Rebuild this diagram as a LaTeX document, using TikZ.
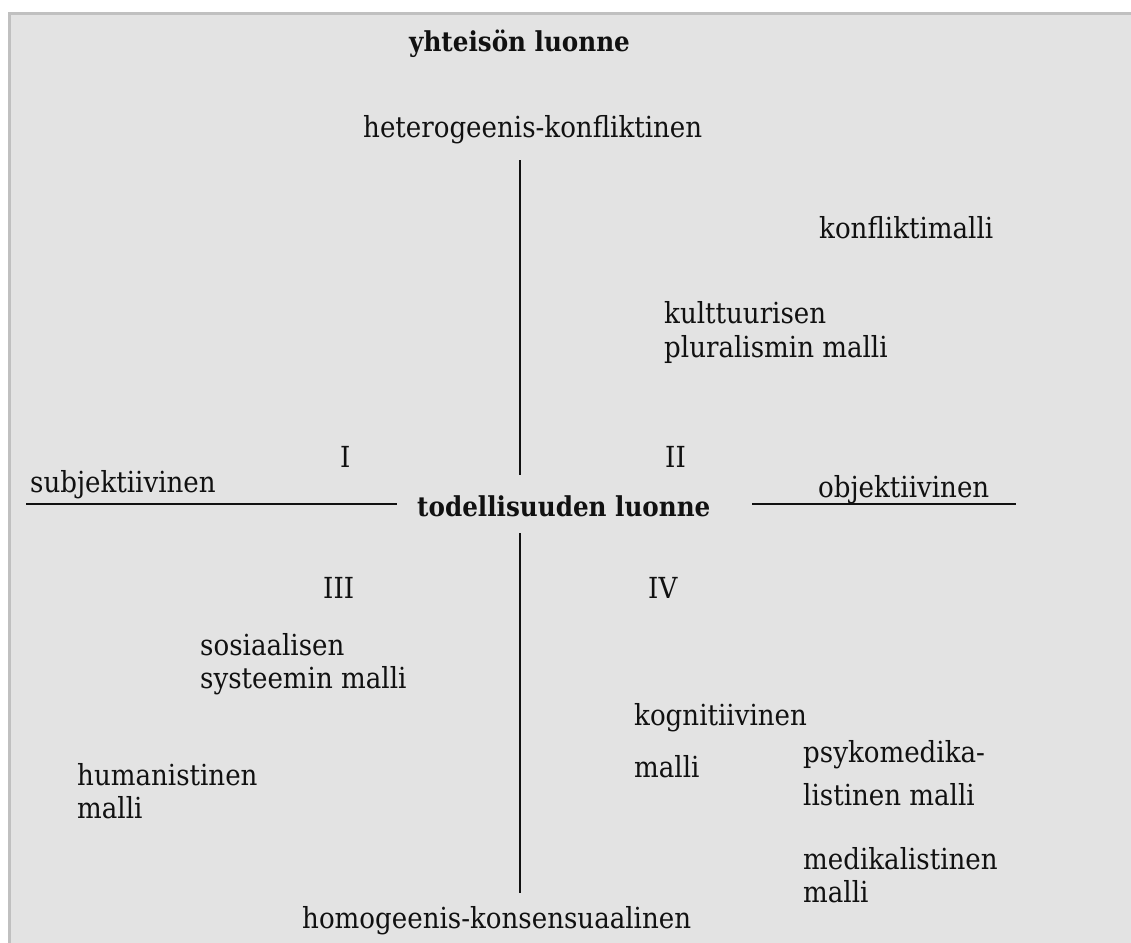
\documentclass[tikz,border=0pt]{standalone}
\usepackage{fontspec}
\setmainfont{DejaVu Serif Condensed}
\definecolor{panel}{HTML}{E3E3E3}
\definecolor{panelrule}{HTML}{C0C0C0}
\definecolor{ink}{HTML}{111111}
\begin{document}
\begin{tikzpicture}[x=1pt,y=-1pt,
  lbl/.style={anchor=base west, inner sep=0pt, text=ink,
              font=\fontsize{29}{30}\selectfont},
  head/.style={lbl, font=\fontsize{27.4}{30}\selectfont\bfseries},
  axis/.style={line width=2pt, draw=ink}]
\useasboundingbox (0,0) rectangle (1131,942);
\fill[white] (0,0) rectangle (1131,942);
% grey panel, open to the right and bottom
\filldraw[fill=panel, draw=panelrule, line width=3pt] (9.5,13.5) rectangle (1150,960);

% axis titles and poles
\node[head] (yht) at (409,52) {yhteisön luonne};
\node[lbl] (het) at (363,137) {heterogeenis-konfliktinen};
\node[head] (tod) at (417,516) {todellisuuden luonne};
\node[lbl] (subj) at (30,492) {subjektiivinen};
\node[lbl] (obj) at (818,497) {objektiivinen};
\node[lbl] (hom) at (302,928) {homogeenis-konsensuaalinen};

% quadrant numbers
\node[lbl] (q1) at (340,467) {I};
\node[lbl] (q2) at (665,467) {II};
\node[lbl] (q3) at (323,598) {III};
\node[lbl] (q4) at (648,598) {IV};

% models
\node[lbl] (konf) at (819,238) {konfliktimalli};
\node[lbl] (kult1) at (664,323) {kulttuurisen};
\node[lbl] (kult2) at (664,357) {pluralismin malli};
\node[lbl] (sos1) at (200,655) {sosiaalisen};
\node[lbl] (sos2) at (200,688) {systeemin malli};
\node[lbl] (hum1) at (77,785) {humanistinen};
\node[lbl] (hum2) at (77,818) {malli};
\node[lbl] (kog1) at (634,725) {kognitiivinen};
\node[lbl] (kog2) at (634,777) {malli};
\node[lbl] (psy1) at (803,762) {psykomedika-};
\node[lbl] (psy2) at (803,805) {listinen malli};
\node[lbl] (med1) at (803,869) {medikalistinen};
\node[lbl] (med2) at (803,902) {malli};

% axes
\coordinate (vtop) at (520,160);
\coordinate (vmid1) at (520,475);
\coordinate (vmid2) at (520,533);
\coordinate (vbot) at (520,893);
\coordinate (hl1) at (26,504);
\coordinate (hl2) at (397,504);
\coordinate (hr1) at (752,504);
\coordinate (hr2) at (1016,504);
\draw[axis] (vtop) -- (vmid1);
\draw[axis] (vmid2) -- (vbot);
\draw[axis] (hl1) -- (hl2);
\draw[axis] (hr1) -- (hr2);
\end{tikzpicture}
\end{document}
